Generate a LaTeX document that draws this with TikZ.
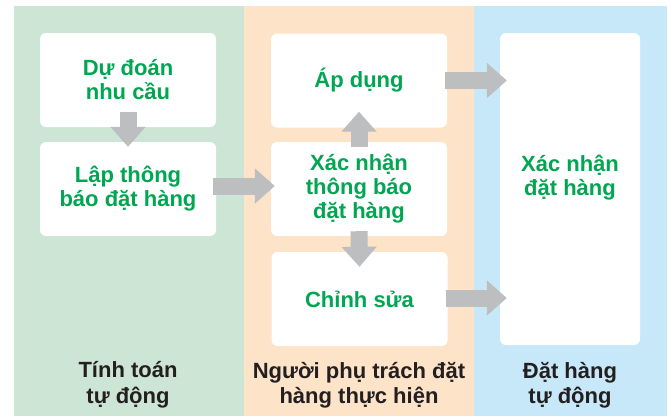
\documentclass[tikz,border=0pt]{standalone}
\usepackage{fontspec}
\setmainfont{Liberation Sans}
\usepackage{tikz}
\usetikzlibrary{arrows.meta,calc}
\definecolor{colcalc}{RGB}{205,229,213}
\definecolor{colstaff}{RGB}{253,227,200}
\definecolor{colauto}{RGB}{199,232,248}
\definecolor{txtgreen}{RGB}{0,166,81}
\definecolor{arrowgrey}{RGB}{188,190,192}
\definecolor{txtdark}{RGB}{35,31,32}

\begin{document}
\begin{tikzpicture}[x=1pt, y=-1pt,
    box/.style={fill=white, rounded corners=6pt, minimum width=176pt, minimum height=94pt,
                inner sep=0pt, text=txtgreen, font=\fontsize{22}{24}\selectfont\bfseries, align=center},
    lane/.style={text=txtdark, font=\fontsize{22}{25.5}\selectfont\bfseries, align=center},
    flow/.style={line width=17pt, draw=arrowgrey, -{Triangle[width=34pt,length=20pt]}}]

    \useasboundingbox (0,0) rectangle (671,416);

    % COLONNES
    \fill[colcalc] (14,6) rectangle (244,416);
    \fill[colstaff] (244,6) rectangle (474,416);
    \fill[colauto] (474,6) rectangle (667,416);

    % BOITES
    \node[box] (dudoan) at (128,80) {Dự đoán\\nhu cầu};
    \node[box] (lapthongbao) at (128,189) {Lập thông\\báo đặt hàng};
    \node[box] (apdung) at (359,80.5) {Áp dụng};
    \node[box] (xacnhantb) at (359,189) {Xác nhận\\thông báo\\đặt hàng};
    \node[box] (chinhsua) at (359.5,299) {Chỉnh sửa};
    \node[box, minimum width=140pt, minimum height=312pt,
          label={[box, fill=none, minimum width=0pt, minimum height=0pt, yshift=11pt]center:Xác nhận\\đặt hàng}]
          (xacnhandh) at (570,189) {};

    % FLECHES
    \draw[flow] ($(dudoan.south)+(0,-15)$) -- ($(lapthongbao.north)+(0,5)$);
    \draw[flow] ($(lapthongbao.east)+(-3,-3)$) -- ($(xacnhantb.west)+(4,-3)$);
    \draw[flow] ($(xacnhantb.north)+(0,5)$) -- ($(apdung.south)+(0,-16)$);
    \draw[flow] ($(xacnhantb.south)+(0,-5)$) -- ($(chinhsua.north)+(0,15)$);
    \draw[flow] ($(apdung.east)+(-2,0)$) -- ($(apdung.east -| xacnhandh.west)+(7,0)$);
    \draw[flow] ($(chinhsua.east)+(-2,-1)$) -- ($(chinhsua.east -| xacnhandh.west)+(7,-1)$);

    % LEGENDES
    \node[lane] (calcauto) at (128,385) {Tính toán\\tự động};
    \node[lane] (staff) at (359,385) {Người phụ trách đặt\\hàng thực hiện};
    \node[lane] (orderauto) at (570,385) {Đặt hàng\\tự động};

\end{tikzpicture}
\end{document}
